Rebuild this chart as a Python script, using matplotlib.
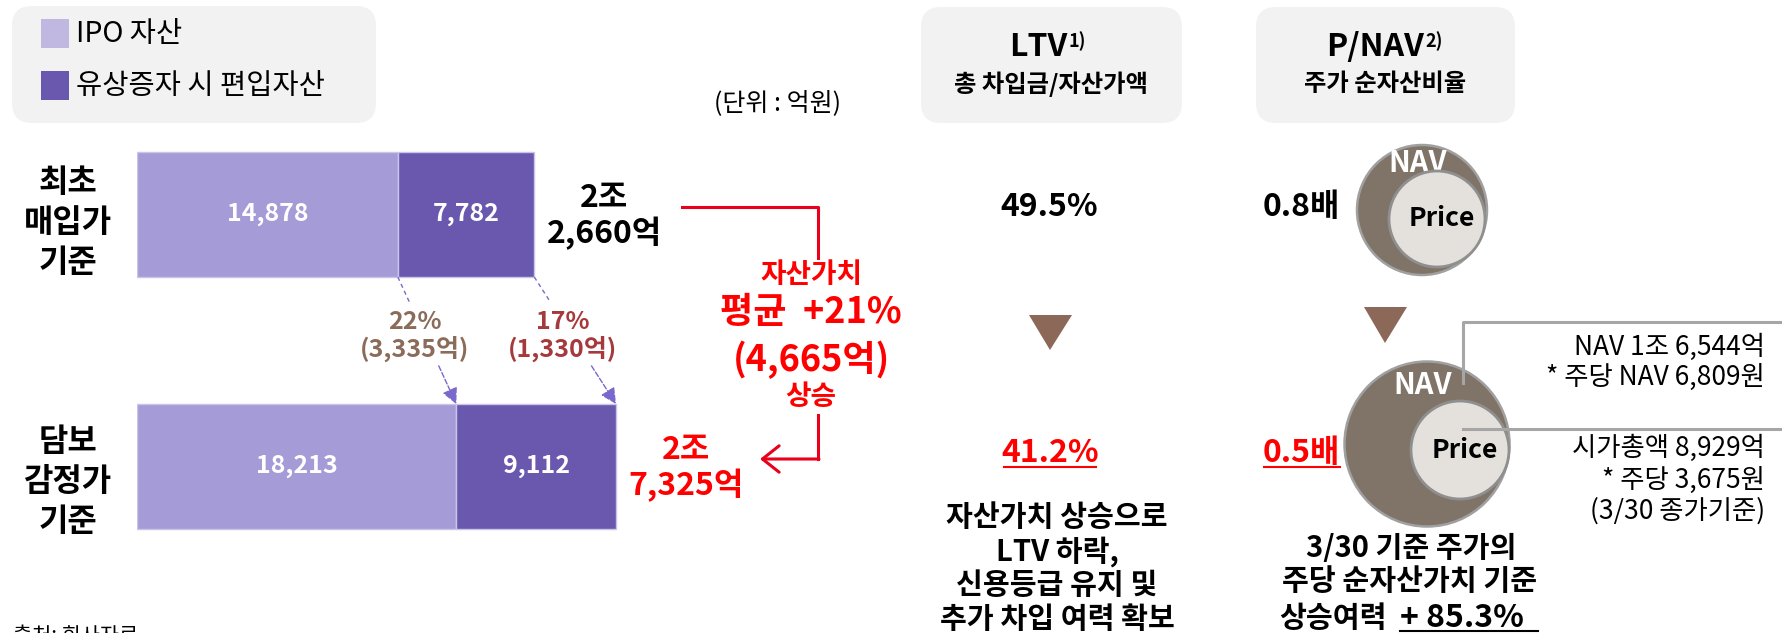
import matplotlib.pyplot as plt
from matplotlib.patches import FancyBboxPatch, Circle, Polygon, Rectangle

plt.rcParams['font.family'] = ['Noto Sans CJK KR', 'DejaVu Sans']

# 자산 규모 (단위: 억원)
bases = ['최초\n매입가\n기준', '담보\n감정가\n기준']
series_names = ['IPO 자산', '유상증자 시 편입자산']
ipo_assets = [14878, 18213]
new_assets = [7782, 9112]

# 우측 지표
ltv = [49.5, 41.2]
pnav = [0.8, 0.5]
upside = 85.3
ltv_notes = ['자산가치 상승으로', 'LTV 하락,', '신용등급 유지 및', '추가 차입 여력 확보']
pnav_notes = ['3/30 기준 주가의', '주당 순자산가치 기준']
nav_notes = ['NAV 1조 6,544억', '* 주당 NAV 6,809원']
price_notes = ['시가총액 8,929억', '* 주당 3,675원', '(3/30 종가기준)']

light, dark = '#A59BD6', '#6A58AE'
swatch = ['#C0B8E0', dark]
red = '#FF0000'
line_red = '#E8001C'
brown = '#8B6858'
arrow_col = '#7A68CC'

totals = [a + b for a, b in zip(ipo_assets, new_assets)]
diff_tot = totals[1] - totals[0]


def jo_eok(v):
    return f'{v // 10000}조\n{v % 10000:,}억'


W, H = 1782, 633
fig = plt.figure(figsize=(W / 100, H / 100), dpi=100)

# bars
ax = fig.add_axes([137 / W, (H - 592.5) / H, 561 / W, 504 / H])
ax.set_xlim(0, 32000)
ax.set_ylim(1.5, -0.5)
ax.axis('off')

rows = list(range(len(bases)))
ax.barh(rows, ipo_assets, height=0.496, color=light, edgecolor='#CBC4EA', lw=1)
ax.barh(rows, new_assets, left=ipo_assets, height=0.496, color=dark, edgecolor='#CBC4EA', lw=1)

label_dy = [0.035, 0.06]
for i in rows:
    ax.text(ipo_assets[i] / 2, i, f'{ipo_assets[i]:,}', color='white', fontsize=18,
            fontweight='bold', ha='center', va='center')
    ax.text(ipo_assets[i] + new_assets[i] / 2, i, f'{new_assets[i]:,}', color='white',
            fontsize=18, fontweight='bold', ha='center', va='center')
    ax.text(-3930, i + label_dy[i], bases[i], fontsize=23, fontweight='bold',
            ha='center', va='center', linespacing=1.32)
    ax.text(totals[i] + 4000, i + 0.006, jo_eok(totals[i]), color=['black', red][i],
            fontsize=23, fontweight='bold', ha='center', va='center', linespacing=1.13)

# 증가분 점선 화살표
hb = 0.248
for x0, x1, col in [(ipo_assets[0], ipo_assets[1], '#8B6B5A'),
                    (totals[0], totals[1], '#A5393B')]:
    d = x1 - x0
    base = x0 if x0 == ipo_assets[0] else new_assets[0]
    pt = lambda t: (x0 + t * d, hb + t * (1 - 2 * hb))
    ax.plot([x0, pt(0.2)[0]], [hb, pt(0.2)[1]], ls='--', dashes=(3, 2.5), color=arrow_col, lw=1)
    ax.annotate('', xy=(x1, 1 - hb), xytext=pt(0.7),
                arrowprops=dict(arrowstyle='-|>', ls='--', color=arrow_col, lw=1,
                                mutation_scale=24, shrinkA=0, shrinkB=0))
    inc = new_assets[1] - new_assets[0] if x0 != ipo_assets[0] else ipo_assets[1] - ipo_assets[0]
    ax.text(x0 + d / 2 - 700, 0.482, f'{round(inc / base * 100)}%\n({inc:,}억)', color=col,
            fontsize=18, fontweight='bold', ha='center', va='center', linespacing=1.1)

# overlay in pixel coordinates
ov = fig.add_axes([0, 0, 1, 1])
ov.set_xlim(0, W)
ov.set_ylim(H, 0)
ov.axis('off')

for x, y, w, h in [(12, 6, 364, 117), (921, 7, 261, 116), (1256, 7, 259, 116)]:
    ov.add_patch(FancyBboxPatch((x, y), w, h, boxstyle='round,pad=0,rounding_size=20',
                                fc='#F2F2F2', ec='none'))

# legend
for k, (name, c) in enumerate(zip(series_names, swatch)):
    y = 19 + k * 52
    ov.add_patch(Rectangle((41, y), 28, 29, fc=c, ec='none'))
    ov.text(76, y + 15, name, fontsize=20.5, va='center', ha='left')

ov.text(777, 103, '(단위 : 억원)', fontsize=18, ha='center', va='center')

# red bracket
ov.plot([682, 818, 818], [207, 207, 258], color=line_red, lw=2.2)
ov.plot([818, 818], [415, 459], color=line_red, lw=2.2)
ov.annotate('', xy=(760, 459), xytext=(819, 459),
            arrowprops=dict(arrowstyle='->,head_length=1.2,head_width=0.95', color=line_red,
                            lw=2.2, mutation_scale=10, shrinkA=0, shrinkB=0))
ov.text(811, 275, '자산가치', color=red, fontsize=20, fontweight='bold', ha='center', va='center')
ov.text(811, 313, f'평균  +{round(diff_tot / totals[0] * 100)}%', color=red, fontsize=26,
        fontweight='bold', ha='center', va='center')
ov.text(811, 360, f'({diff_tot:,}억)', color=red, fontsize=26, fontweight='bold',
        ha='center', va='center')
ov.text(811, 397, '상승', color=red, fontsize=20, fontweight='bold', ha='center', va='center')

# headers
ov.text(1067, 47, 'LTV', fontsize=23, fontweight='bold', ha='right', va='center')
ov.text(1068, 41, '1)', fontsize=13, fontweight='bold', ha='left', va='center')
ov.text(1051, 84, '총 차입금/자산가액', fontsize=17.5, fontweight='bold', ha='center', va='center')
ov.text(1424, 47, 'P/NAV', fontsize=23, fontweight='bold', ha='right', va='center')
ov.text(1425, 41, '2)', fontsize=13, fontweight='bold', ha='left', va='center')
ov.text(1385, 84, '주가 순자산비율', fontsize=17.5, fontweight='bold', ha='center', va='center')

# LTV column
ov.text(1049, 207, f'{ltv[0]}%', fontsize=23, fontweight='bold', ha='center', va='center')
ov.add_patch(Polygon([(1029, 315), (1072, 315), (1050, 350)], fc=brown, ec='none'))
ov.text(1050, 453, f'{ltv[1]}%', color=red, fontsize=23, fontweight='bold', ha='center', va='center')
ov.plot([1004, 1096], [467, 467], color=red, lw=1.5)
ov.text(1057, 568, '\n'.join(ltv_notes), fontsize=21, fontweight='bold', ha='center',
        va='center', linespacing=1.15)

# P/NAV column
ov.text(1340, 207, f'{pnav[0]}배', fontsize=23, fontweight='bold', ha='right', va='center')
ov.add_patch(Polygon([(1364, 307), (1407, 307), (1385, 343)], fc=brown, ec='none'))
ov.text(1340, 453, f'{pnav[1]}배', color=red, fontsize=23, fontweight='bold', ha='right', va='center')
ov.plot([1264, 1340], [467, 467], color=red, lw=1.5)

for (cx, cy, r), (ix, iy, ir), ny in [((1422, 210, 65), (1437, 219, 48), 163),
                                       ((1427, 444, 82.5), (1460, 450, 49), 385)]:
    ov.add_patch(Circle((cx, cy), r, fc='#7F7467', ec='#A0A0A0', lw=1.8, zorder=2))
    ov.text(cx - 4, ny, 'NAV', color='white', fontsize=21, fontweight='bold',
            ha='center', va='center', zorder=3)
    ov.add_patch(Circle((ix, iy), ir, fc='#E4E1DC', ec='#8F8F8F', lw=2, zorder=4))
    ov.text(ix + 5, iy, 'Price', fontsize=19, fontweight='bold', ha='center', va='center', zorder=5)

ov.plot([1463, 1463, W], [383, 322, 322], color='#A6A6A6', lw=2.2, zorder=6)
ov.plot([1463, W], [429, 429], color='#A6A6A6', lw=2.2, zorder=6)
ov.text(1765, 362, '\n'.join(nav_notes), fontsize=19, ha='right', va='center', linespacing=1.13)
ov.text(1765, 480, '\n'.join(price_notes), fontsize=19, ha='right', va='center', linespacing=1.2)

ov.text(1411, 548, pnav_notes[0], fontsize=21, fontweight='bold', ha='center', va='center')
ov.text(1410, 581, pnav_notes[1], fontsize=21, fontweight='bold', ha='center', va='center')
ov.text(1387, 618, '상승여력', fontsize=21, fontweight='bold', ha='right', va='center')
ov.text(1400, 618, f'+ {upside}%', fontsize=23, fontweight='bold', ha='left', va='center')
ov.plot([1400, 1538], [631, 631], color='black', lw=1.5)

ov.text(13, 625, '출처: 회사자료', fontsize=15, ha='left', va='top')

fig.savefig('out.png', dpi=100)
